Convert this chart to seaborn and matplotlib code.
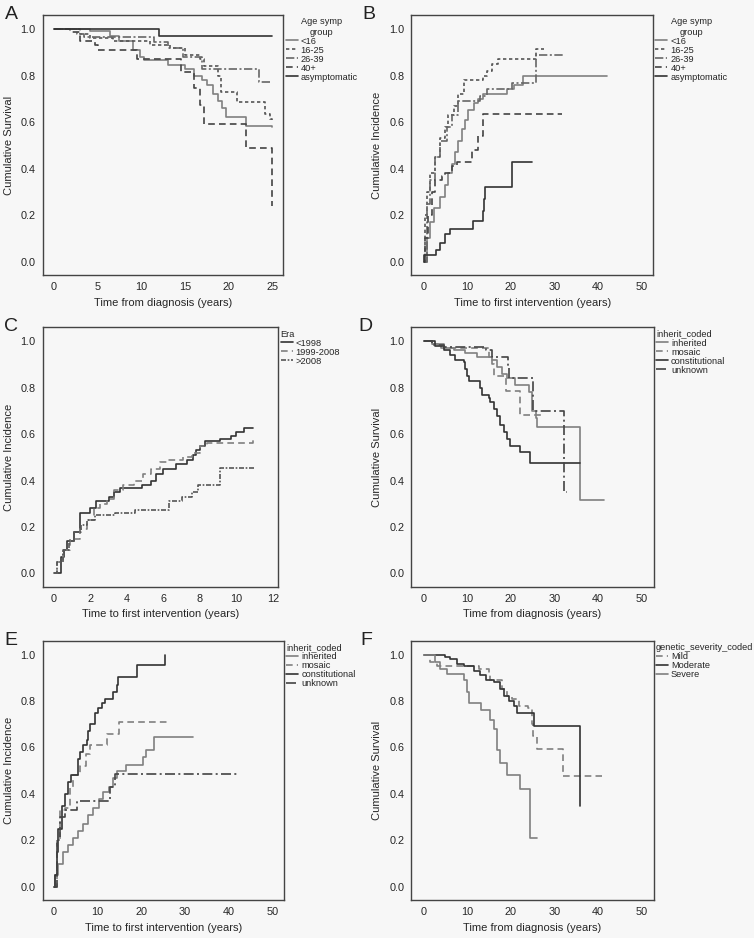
import pandas as pd
import matplotlib
matplotlib.use("Agg")
import matplotlib.pyplot as plt
from matplotlib.lines import Line2D
import seaborn as sns

# ---------- DATA (step points) ----------

# Panel A - survival by age at symptoms
a_groups = ["<16", "16-25", "26-39", "40+", "asymptomatic"]
a_lt16_t = [0, 4.1, 6.4, 7.4, 9.0, 9.8, 10.3, 13.1, 15.0, 16.0, 16.9, 17.5, 18.2, 18.8, 19.2, 19.7, 22.0, 25.0]
a_lt16_s = [1.0, 0.99, 0.97, 0.95, 0.91, 0.88, 0.865, 0.845, 0.83, 0.80, 0.78, 0.76, 0.72, 0.69, 0.66, 0.62, 0.585, 0.58]
a_1625_t = [0, 3.0, 4.1, 6.8, 11.0, 13.3, 15.0, 16.7, 17.2, 18.8, 19.1, 21.0, 24.2, 24.8, 25.0]
a_1625_s = [1.0, 0.98, 0.96, 0.95, 0.93, 0.92, 0.89, 0.87, 0.84, 0.80, 0.73, 0.685, 0.635, 0.615, 0.61]
a_2639_t = [0, 2.6, 3.4, 11.4, 13.1, 14.8, 16.9, 23.5, 25.0]
a_2639_s = [1.0, 0.98, 0.965, 0.944, 0.92, 0.88, 0.83, 0.772, 0.772]
a_40_t = [0, 1.8, 3.0, 4.7, 5.0, 9.5, 14.6, 16.0, 16.7, 17.2, 22.0, 25.0, 25.0]
a_40_s = [1.0, 0.985, 0.95, 0.93, 0.91, 0.87, 0.817, 0.745, 0.672, 0.59, 0.49, 0.49, 0.24]
a_asym_t = [0, 12.0, 25.0]
a_asym_s = [1.0, 0.97, 0.97]

# Panel B - incidence of first intervention by age at symptoms
b_lt16_t = [0, 0.8, 1.5, 2.3, 3.7, 5.0, 5.7, 6.5, 7.3, 8.0, 8.8, 9.6, 10.3, 11.5, 12.6, 13.6, 19.1, 20.7, 22.8, 42.2]
b_lt16_c = [0, 0.10, 0.17, 0.23, 0.28, 0.33, 0.38, 0.42, 0.47, 0.52, 0.57, 0.61, 0.65, 0.68, 0.70, 0.72, 0.74, 0.76, 0.80, 0.80]
b_1625_t = [0, 0.4, 0.8, 1.5, 2.7, 3.8, 5.0, 5.7, 6.9, 8.0, 9.3, 13.6, 14.5, 15.7, 17.0, 25.9, 27.6]
b_1625_c = [0, 0.20, 0.30, 0.38, 0.45, 0.53, 0.58, 0.63, 0.67, 0.72, 0.78, 0.80, 0.82, 0.85, 0.87, 0.915, 0.915]
b_2639_t = [0, 0.8, 1.5, 2.7, 3.8, 5.4, 6.5, 8.0, 12.9, 14.5, 20.3, 25.7, 32.5]
b_2639_c = [0, 0.25, 0.35, 0.45, 0.52, 0.58, 0.63, 0.69, 0.71, 0.74, 0.77, 0.89, 0.89]
b_40_t = [0, 0.4, 1.1, 1.9, 2.7, 4.2, 5.0, 6.5, 7.7, 11.1, 12.6, 13.6, 31.9]
b_40_c = [0, 0.10, 0.20, 0.30, 0.35, 0.37, 0.38, 0.41, 0.43, 0.48, 0.54, 0.635, 0.635]
b_asym_t = [0, 0.2, 2.9, 3.8, 5.0, 6.1, 11.3, 13.6, 13.9, 14.2, 20.4, 25.0]
b_asym_c = [0, 0.03, 0.05, 0.08, 0.12, 0.14, 0.175, 0.22, 0.27, 0.32, 0.43, 0.43]

# Panel C - incidence by era
c_groups = ["<1998", "1999-2008", ">2008"]
c_lt98_t = [0, 0.37, 0.55, 0.7, 1.1, 1.4, 2.0, 2.3, 3.0, 3.3, 3.6, 4.8, 5.3, 5.6, 6.0, 6.7, 7.3, 7.6, 7.8, 8.0, 8.3, 9.1, 9.7, 10.0, 10.4, 10.9]
c_lt98_c = [0, 0.07, 0.10, 0.14, 0.18, 0.26, 0.28, 0.31, 0.33, 0.35, 0.37, 0.38, 0.40, 0.43, 0.45, 0.47, 0.49, 0.51, 0.53, 0.55, 0.57, 0.58, 0.59, 0.61, 0.625, 0.625]
c_9908_t = [0, 0.15, 0.5, 0.9, 1.4, 1.8, 2.2, 2.5, 2.9, 3.3, 3.8, 4.4, 4.9, 5.3, 5.8, 6.2, 7.1, 7.55, 8.0, 8.4, 10.9]
c_9908_c = [0, 0.05, 0.10, 0.15, 0.19, 0.23, 0.28, 0.30, 0.32, 0.36, 0.38, 0.40, 0.43, 0.45, 0.48, 0.49, 0.50, 0.52, 0.55, 0.56, 0.575]
c_gt08_t = [0, 0.15, 0.5, 0.8, 1.1, 1.5, 1.8, 2.25, 3.35, 4.45, 6.3, 7.0, 7.55, 7.9, 9.1, 10.95]
c_gt08_c = [0, 0.05, 0.10, 0.14, 0.18, 0.21, 0.23, 0.25, 0.26, 0.275, 0.31, 0.33, 0.35, 0.38, 0.455, 0.455]

# Panel D - survival by inheritance
inh_groups = ["inherited", "mosaic", "constitutional", "unknown"]
d_inh_t = [0, 1.9, 4.6, 6.9, 9.6, 12.3, 15.7, 16.8, 18.0, 19.1, 21.0, 24.1, 24.9, 25.7, 26.0, 35.8, 41.5]
d_inh_s = [1.0, 0.99, 0.97, 0.96, 0.95, 0.93, 0.92, 0.89, 0.86, 0.84, 0.81, 0.78, 0.70, 0.67, 0.63, 0.315, 0.315]
d_mos_t = [0, 1.5, 4.0, 14.9, 15.7, 16.2, 19.0, 22.0, 27.8]
d_mos_s = [1.0, 0.99, 0.97, 0.93, 0.90, 0.852, 0.785, 0.684, 0.684]
d_con_t = [0, 2.7, 4.6, 6.1, 7.3, 9.2, 9.6, 10.0, 10.3, 13.0, 13.4, 14.9, 15.3, 16.1, 16.8, 17.6, 18.4, 19.1, 19.9, 22.0, 24.3, 35.8]
d_con_s = [1.0, 0.98, 0.96, 0.94, 0.92, 0.91, 0.88, 0.85, 0.83, 0.80, 0.77, 0.755, 0.74, 0.71, 0.68, 0.64, 0.61, 0.58, 0.55, 0.525, 0.476, 0.476]
d_unk_t = [0, 2.0, 4.6, 14.2, 15.7, 19.3, 19.5, 25.0, 32.2, 32.8]
d_unk_s = [1.0, 0.985, 0.975, 0.96, 0.93, 0.89, 0.84, 0.70, 0.35, 0.35]

# Panel E - incidence by inheritance
e_inh_t = [0, 0.2, 1.0, 2.1, 3.3, 4.4, 5.6, 6.7, 7.9, 9.0, 10.2, 11.3, 12.5, 13.6, 14.4, 16.6, 20.5, 21.1, 22.9, 31.8]
e_inh_c = [0, 0.05, 0.10, 0.15, 0.18, 0.21, 0.24, 0.27, 0.31, 0.34, 0.38, 0.41, 0.43, 0.47, 0.50, 0.525, 0.56, 0.59, 0.645, 0.645]
e_mos_t = [0, 0.6, 1.4, 2.5, 3.7, 4.4, 6.0, 7.3, 8.2, 12.2, 15.0, 26.6]
e_mos_c = [0, 0.20, 0.33, 0.34, 0.43, 0.48, 0.52, 0.57, 0.61, 0.66, 0.71, 0.71]
e_con_t = [0, 0.2, 0.6, 1.0, 1.75, 2.5, 3.3, 4.0, 5.5, 6.0, 6.7, 7.5, 7.9, 8.2, 9.4, 10.1, 10.9, 11.6, 13.6, 14.4, 14.7, 19.1, 25.4]
e_con_c = [0, 0.05, 0.15, 0.25, 0.35, 0.40, 0.45, 0.48, 0.55, 0.58, 0.61, 0.63, 0.67, 0.70, 0.75, 0.77, 0.79, 0.81, 0.84, 0.87, 0.905, 0.955, 1.0]
e_unk_t = [0, 0.6, 1.4, 2.5, 5.3, 12.8, 14.0, 42.4]
e_unk_c = [0, 0.20, 0.30, 0.33, 0.37, 0.43, 0.485, 0.485]

# Panel F - survival by genetic severity
f_groups = ["Mild", "Moderate", "Severe"]
f_mild_t = [0, 1.5, 3.1, 12.6, 14.9, 15.3, 18.0, 19.1, 20.3, 21.8, 23.9, 24.9, 25.2, 26.0, 32.0, 41.0]
f_mild_s = [1.0, 0.97, 0.95, 0.94, 0.92, 0.89, 0.85, 0.82, 0.81, 0.78, 0.77, 0.70, 0.65, 0.595, 0.477, 0.477]
f_mod_t = [0, 5.0, 6.1, 7.7, 9.2, 11.5, 13.0, 14.2, 16.1, 17.6, 18.4, 19.5, 20.7, 21.4, 25.3, 35.8]
f_mod_s = [1.0, 0.99, 0.98, 0.96, 0.95, 0.93, 0.91, 0.89, 0.88, 0.85, 0.82, 0.80, 0.78, 0.75, 0.693, 0.347]
f_sev_t = [0, 2.7, 3.8, 5.4, 9.3, 10.0, 10.3, 13.2, 15.3, 16.1, 16.8, 17.6, 19.1, 22.0, 24.3, 26.0]
f_sev_s = [1.0, 0.97, 0.94, 0.915, 0.89, 0.84, 0.79, 0.76, 0.72, 0.68, 0.59, 0.535, 0.48, 0.42, 0.21, 0.21]

# ---------- STYLES ----------

DARK = "#333333"
MID = "#555555"
GRAY = "#808080"
BG = "#f7f7f7"

age_pal = {"<16": GRAY, "16-25": MID, "26-39": "#666666", "40+": "#444444", "asymptomatic": DARK}
age_dash = {"<16": "", "16-25": (2, 1.6), "26-39": (5, 1.5, 1.2, 1.5), "40+": (4, 2.5), "asymptomatic": ""}
era_pal = {"<1998": DARK, "1999-2008": GRAY, ">2008": "#555555"}
era_dash = {"<1998": "", "1999-2008": (4, 2.5), ">2008": (3, 1, 1, 1)}
inh_pal = {"inherited": GRAY, "mosaic": GRAY, "constitutional": DARK, "unknown": "#444444"}
inh_dash = {"inherited": "", "mosaic": (4, 2.5), "constitutional": "", "unknown": (6, 2, 1.2, 2)}
sev_pal = {"Mild": GRAY, "Moderate": DARK, "Severe": GRAY}
sev_dash = {"Mild": (4, 2.5), "Moderate": "", "Severe": ""}


def long_frame(series):
    rows = []
    for name, (t, v) in series.items():
        for ti, vi in zip(t, v):
            rows.append({"group": name, "t": ti, "v": vi})
    return pd.DataFrame(rows)


def draw_panel(ax, series, order, pal, dash, xlim, xticks, xlabel, ylabel,
               letter, letter_x, leg_title, leg_align):
    df = long_frame(series)
    sns.lineplot(data=df, x="t", y="v", hue="group", style="group",
                 hue_order=order, style_order=order, palette=pal, dashes=dash,
                 drawstyle="steps-post", estimator=None, sort=False,
                 legend=False, linewidth=1.2, ax=ax)
    ax.set_facecolor(BG)
    ax.set_xlim(*xlim)
    ax.set_ylim(-0.057, 1.06)
    ax.set_xticks(xticks)
    ax.set_yticks([0, 0.2, 0.4, 0.6, 0.8, 1.0])
    ax.set_yticklabels(["0.0", "0.2", "0.4", "0.6", "0.8", "1.0"])
    ax.set_xlabel(xlabel, fontsize=8, labelpad=4)
    ax.set_ylabel(ylabel, fontsize=8, labelpad=5)
    ax.tick_params(axis="both", labelsize=7.8, length=3, width=0.8,
                   color="#444444", direction="out", pad=2)
    for sp in ax.spines.values():
        sp.set_color("#444444")
        sp.set_linewidth(1.0)
    ax.grid(False)

    handles = []
    for g in order:
        d = dash[g]
        h = Line2D([], [], color=pal[g], linewidth=1.2)
        if d:
            h.set_dashes(d)
        handles.append(h)
    leg = ax.legend(handles, order, title=leg_title, loc="upper left",
                    bbox_to_anchor=(1.0, 1.0), frameon=False, fontsize=6.7,
                    title_fontsize=6.7, handlelength=1.3, handletextpad=0.3,
                    labelspacing=0.0, borderaxespad=0.15, borderpad=0.1,
                    alignment=leg_align)
    leg.get_title().set_multialignment("center")
    ax.text(letter_x, 1.035, letter, transform=ax.transAxes, fontsize=14,
            va="top", ha="left", color="#222222")


# ---------- FIGURE ----------

sns.set_theme(style="white")
plt.rcParams["font.family"] = ["Liberation Sans", "DejaVu Sans"]

fig = plt.figure(figsize=(7.54, 9.38), dpi=100)
fig.patch.set_facecolor(BG)

ax_a = fig.add_axes([0.0566, 0.7068, 0.319, 0.2772])
ax_b = fig.add_axes([0.5455, 0.7068, 0.3206, 0.2772])
ax_c = fig.add_axes([0.0566, 0.3745, 0.3125, 0.2766])
ax_d = fig.add_axes([0.5455, 0.3745, 0.3215, 0.2766])
ax_e = fig.add_axes([0.0566, 0.0405, 0.320, 0.2765])
ax_f = fig.add_axes([0.5455, 0.0405, 0.3215, 0.2765])

draw_panel(ax_a,
           {"<16": (a_lt16_t, a_lt16_s), "16-25": (a_1625_t, a_1625_s),
            "26-39": (a_2639_t, a_2639_s), "40+": (a_40_t, a_40_s),
            "asymptomatic": (a_asym_t, a_asym_s)},
           a_groups, age_pal, age_dash, (-1.3, 26.26), [0, 5, 10, 15, 20, 25],
           "Time from diagnosis (years)", "Cumulative Survival", "A", -0.157,
           "Age symp\ngroup", "center")

draw_panel(ax_b,
           {"<16": (b_lt16_t, b_lt16_c), "16-25": (b_1625_t, b_1625_c),
            "26-39": (b_2639_t, b_2639_c), "40+": (b_40_t, b_40_c),
            "asymptomatic": (b_asym_t, b_asym_c)},
           a_groups, age_pal, age_dash, (-2.83, 52.7), [0, 10, 20, 30, 40, 50],
           "Time to first intervention (years)", "Cumulative Incidence", "B", -0.204,
           "Age symp\ngroup", "center")

draw_panel(ax_c,
           {"<1998": (c_lt98_t, c_lt98_c), "1999-2008": (c_9908_t, c_9908_c),
            ">2008": (c_gt08_t, c_gt08_c)},
           c_groups, era_pal, era_dash, (-0.62, 12.3), [0, 2, 4, 6, 8, 10, 12],
           "Time to first intervention (years)", "Cumulative Incidence", "C", -0.165,
           "Era", "left")

draw_panel(ax_d,
           {"inherited": (d_inh_t, d_inh_s), "mosaic": (d_mos_t, d_mos_s),
            "constitutional": (d_con_t, d_con_s), "unknown": (d_unk_t, d_unk_s)},
           inh_groups, inh_pal, inh_dash, (-2.83, 52.8), [0, 10, 20, 30, 40, 50],
           "Time from diagnosis (years)", "Cumulative Survival", "D", -0.22,
           "inherit_coded", "left")

draw_panel(ax_e,
           {"inherited": (e_inh_t, e_inh_c), "mosaic": (e_mos_t, e_mos_c),
            "constitutional": (e_con_t, e_con_c), "unknown": (e_unk_t, e_unk_c)},
           inh_groups, inh_pal, inh_dash, (-2.6, 52.7), [0, 10, 20, 30, 40, 50],
           "Time to first intervention (years)", "Cumulative Incidence", "E", -0.157,
           "inherit_coded", "left")

draw_panel(ax_f,
           {"Mild": (f_mild_t, f_mild_s), "Moderate": (f_mod_t, f_mod_s),
            "Severe": (f_sev_t, f_sev_s)},
           f_groups, sev_pal, sev_dash, (-2.83, 52.8), [0, 10, 20, 30, 40, 50],
           "Time from diagnosis (years)", "Cumulative Survival", "F", -0.21,
           "genetic_severity_coded", "left")

fig.savefig("out.png", dpi=100, facecolor=BG)
